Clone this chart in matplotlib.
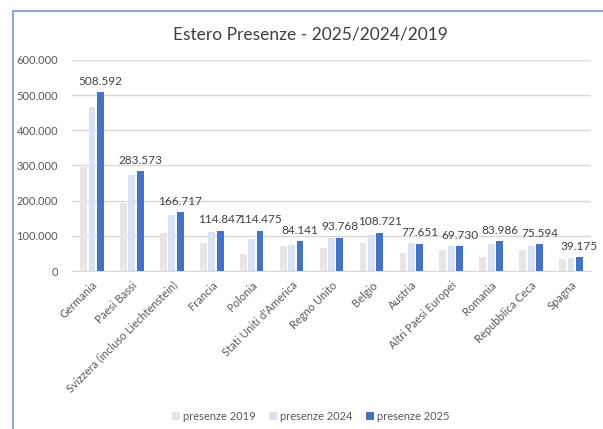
import numpy as np
import matplotlib.pyplot as plt
from matplotlib.lines import Line2D

plt.rcParams['font.family'] = ['Lato', 'DejaVu Sans']

paesi = ['Germania', 'Paesi Bassi', 'Svizzera (incluso Liechtenstein)', 'Francia',
         'Polonia', "Stati Uniti d'America", 'Regno Unito', 'Belgio', 'Austria',
         'Altri Paesi Europei', 'Romania', 'Repubblica Ceca', 'Spagna']
pres_2019 = [297000, 194000, 109000, 81000, 48000, 71000, 65000, 80000, 52000, 61000, 41000, 60000, 35000]
pres_2024 = [467000, 274000, 159000, 112000, 92000, 74000, 94000, 103000, 81000, 70000, 78000, 70000, 38000]
pres_2025 = [508592, 283573, 166717, 114847, 114475, 84141, 93768, 108721, 77651, 69730, 83986, 75594, 39175]

fig = plt.figure(figsize=(6.03, 4.29), dpi=100)
ax = fig.add_axes([72 / 603, 1 - 271 / 429, 519 / 603, 211 / 429])

x = np.arange(len(paesi))
w = 0.21
ax.bar(x - w, pres_2019, 0.17, color='#E7E6E6', label='presenze 2019', zorder=2)
ax.bar(x, pres_2024, 0.17, color='#DAE3F3', label='presenze 2024', zorder=2)
ax.bar(x + w, pres_2025, 0.17, color='#4472C4', label='presenze 2025', zorder=2)

def fmt(v):
    return f'{v:,.0f}'.replace(',', '.')

for xi, v in zip(x, pres_2025):
    ax.text(xi + w, v + 16000, fmt(v), ha='center', va='bottom', fontsize=8.5, color='#404040')

ax.set_ylim(0, 600000)
ax.set_xlim(-0.5, len(paesi) - 0.5)
ax.set_yticks(range(0, 600001, 100000))
ax.set_yticklabels([fmt(t) for t in range(0, 600001, 100000)], fontsize=8, color='#595959')
ax.set_xticks(x)
ax.set_xticklabels(paesi, rotation=45, ha='right', rotation_mode='anchor', fontsize=8, color='#595959')
ax.tick_params(axis='y', length=0, pad=10)
ax.tick_params(axis='x', length=0, pad=6)
ax.grid(axis='y', color='#D9D9D9', linewidth=1, zorder=0)
for s in ['top', 'right', 'left']:
    ax.spines[s].set_visible(False)
ax.spines['bottom'].set_color('#D9D9D9')

fig.text(0.515, 1 - 34 / 429, 'Estero Presenze - 2025/2024/2019', ha='center', va='center',
         fontsize=12.5, color='#404040')

fig.legend(loc='center', bbox_to_anchor=(311 / 603, 1 - 416 / 429), ncol=3, frameon=False,
           fontsize=8, handlelength=0.7, handleheight=0.7, columnspacing=1.2,
           handletextpad=0.3, labelcolor='#595959')

# chart frame
fig.add_artist(Line2D([13 / 603, 13 / 603], [0, 1 - 11 / 429], color='#8EA9DB', lw=1.5,
                      transform=fig.transFigure))
fig.add_artist(Line2D([13 / 603, 1], [1 - 11 / 429, 1 - 11 / 429], color='#8EA9DB', lw=1.5,
                      transform=fig.transFigure))

fig.savefig('out.png', dpi=100)
